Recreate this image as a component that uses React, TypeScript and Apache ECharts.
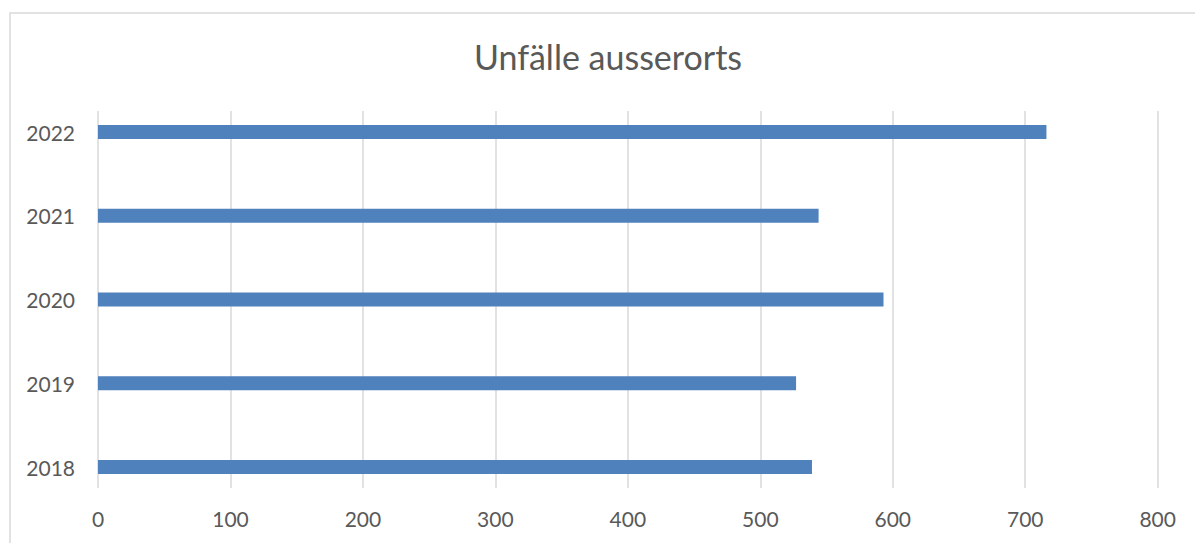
import React, { useEffect, useRef } from "react";
import * as echarts from "echarts";

const TITLE = "Unfälle ausserorts";
const years = ["2018", "2019", "2020", "2021", "2022"];
const accidents = [539, 527, 593, 544, 716];
const xMin = 0;
const xMax = 800;
const xStep = 100;

const FONT = "Lato, 'Open Sans', sans-serif";
const TEXT = "#595959";

export default function App() {
  const ref = useRef<HTMLDivElement>(null);
  useEffect(() => {
    if (!ref.current) return;
    const chart = echarts.init(ref.current, undefined, { renderer: "svg" });
    chart.setOption({
      animation: false,
      backgroundColor: "#ffffff",
      title: {
        text: TITLE,
        left: 603,
        top: 34,
        textAlign: "center",
        textStyle: { color: TEXT, fontSize: 34, fontWeight: "normal", fontFamily: FONT },
      },
      graphic: [
        {
          type: "rect",
          shape: { x: 10, y: 13, width: 1200, height: 600 },
          style: { fill: "none", stroke: "#d9d9d9", lineWidth: 1.5 },
          silent: true,
        },
      ],
      grid: [
        { left: 98, right: 37.3, top: 132, bottom: 76 },
        { left: 98, right: 37.3, top: 111, bottom: 55 },
      ],
      xAxis: [
        {
          gridIndex: 0,
          type: "value",
          min: xMin,
          max: xMax,
          interval: xStep,
          axisLine: { show: false },
          axisTick: { show: false },
          axisLabel: { show: false },
          splitLine: { show: false },
        },
        {
          gridIndex: 1,
          type: "value",
          min: xMin,
          max: xMax,
          interval: xStep,
          axisLine: { show: false },
          axisTick: { show: false },
          axisLabel: { color: TEXT, fontSize: 21, fontFamily: FONT, margin: 20 },
          splitLine: { show: true, lineStyle: { color: "#d9d9d9", width: 1.5 } },
        },
      ],
      yAxis: [
        {
          gridIndex: 0,
          type: "category",
          data: years,
          boundaryGap: false,
          axisLine: { show: false },
          axisTick: { show: false },
          axisLabel: { color: TEXT, fontSize: 21, fontFamily: FONT, margin: 23 },
          splitLine: { show: false },
        },
        {
          gridIndex: 1,
          type: "value",
          show: false,
        },
      ],
      series: [
        {
          type: "bar",
          xAxisIndex: 0,
          yAxisIndex: 0,
          data: accidents,
          barWidth: 14,
          itemStyle: { color: "#4f81bd" },
        },
      ],
    });
    return () => chart.dispose();
  }, []);
  return (
    <div
      ref={ref}
      style={{ position: "fixed", left: 0, top: 0, width: 1195, height: 543 }}
    />
  );
}
